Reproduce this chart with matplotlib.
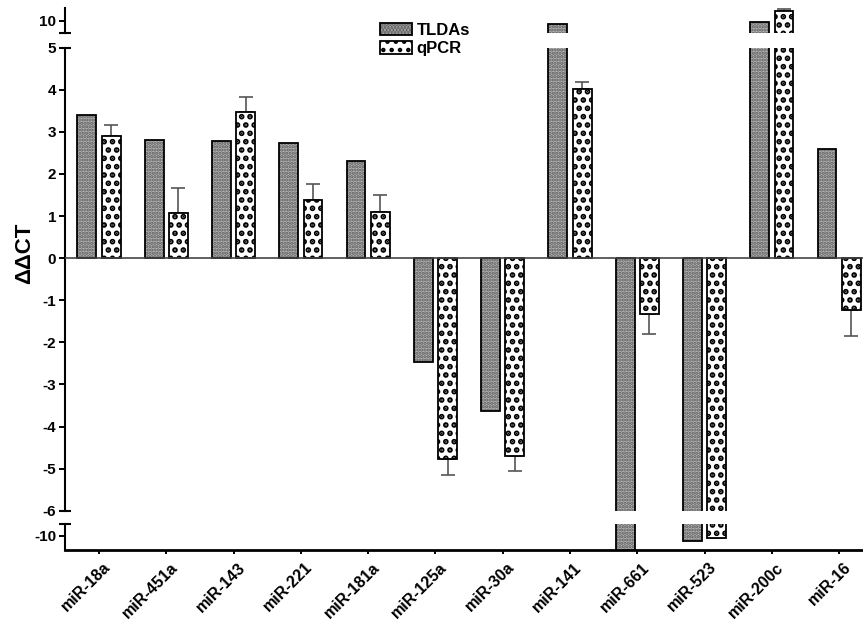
import numpy as np
import matplotlib.pyplot as plt
from matplotlib.patches import Patch
from matplotlib.transforms import ScaledTranslation

plt.rcParams['font.family'] = ['Liberation Sans', 'DejaVu Sans']
plt.rcParams['font.weight'] = 'bold'
plt.rcParams['axes.unicode_minus'] = False
plt.rcParams['hatch.linewidth'] = 2.0

# ΔΔCT par miARN : TLDAs vs qPCR (erreur sur qPCR seulement)
mirnas = ["miR-18a", "miR-451a", "miR-143", "miR-221", "miR-181a", "miR-125a",
          "miR-30a", "miR-141", "miR-661", "miR-523", "miR-200c", "miR-16"]
tldas = [3.40, 2.81, 2.78, 2.73, 2.32, -2.46, -3.63, 9.44, -12.8, -10.93, 9.86, 2.60]
qpcr = [2.91, 1.07, 3.47, 1.37, 1.09, -4.77, -4.69, 4.02, -1.32, -10.35, 11.6, -1.22]
qpcr_err = [0.26, 0.60, 0.37, 0.39, 0.40, 0.38, 0.37, 0.16, 0.49, 0.0, 0.30, 0.62]

x = np.arange(len(mirnas))
largeur = 0.28
decal = 0.18

# erreur dessinée seulement du côté de la barre
qpcr_a = np.array(qpcr)
err_a = np.array(qpcr_err)
yerr = np.vstack([np.where(qpcr_a < 0, err_a, 0), np.where(qpcr_a >= 0, err_a, 0)])

fig = plt.figure(figsize=(8.63, 6.2), dpi=100)
x0 = 64.5 / 863
w = 1 - x0
ax_haut = fig.add_axes([x0, 1 - 33.3 / 620, w, 25 / 620])
ax_mil = fig.add_axes([x0, 1 - 510.7 / 620, w, 463 / 620])
ax_bas = fig.add_axes([x0, 1 - 550 / 620, w, 25.7 / 620])

gris_tlda = '#b4b4b4'
motif_tlda = '#5a5a5a'
lw_tlda = 1.6
motif_qpcr = '..'
lw_qpcr = 2.8


def epaisseur_motif(patches, lw):
    for p in patches:
        if hasattr(p, 'set_hatch_linewidth'):
            p.set_hatch_linewidth(lw)


for ax in (ax_haut, ax_mil, ax_bas):
    b1 = ax.bar(x - decal, tldas, largeur, color=gris_tlda, edgecolor=motif_tlda,
                hatch='.....', linewidth=0, zorder=2)
    epaisseur_motif(b1, lw_tlda)
    ax.bar(x - decal, tldas, largeur, fill=False, edgecolor='black',
           linewidth=1.3, zorder=3)
    b2 = ax.bar(x + decal, qpcr, largeur, color='white', edgecolor='black',
                hatch=motif_qpcr, linewidth=1.3, zorder=2)
    epaisseur_motif(b2, lw_qpcr)
    ax.errorbar(x + decal, qpcr, yerr=yerr, fmt='none', ecolor='#555555',
                elinewidth=1.2, capsize=5, capthick=1.2, zorder=1)
    ax.set_xlim(-0.513, 11.355)
    for s in ('top', 'right', 'bottom'):
        ax.spines[s].set_visible(False)
    ax.spines['left'].set_linewidth(1.5)
    ax.tick_params(axis='y', direction='out', length=4, width=1.4,
                   labelsize=11, pad=2)
    ax.set_xticks([])

ax_haut.set_ylim(8, 12)
ax_haut.set_yticks([10])
ax_mil.set_ylim(-6, 5)
ax_mil.set_yticks(range(-6, 6))
ax_mil.axhline(0, color='#444444', linewidth=1.2, zorder=4)
ax_bas.set_ylim(-12.5, -8)
ax_bas.set_yticks([-10])

# axe des x sur le segment du bas
ax_bas.spines['bottom'].set_visible(True)
ax_bas.spines['bottom'].set_linewidth(2)
ax_bas.set_xticks(x)
ax_bas.set_xticklabels(mirnas, rotation=45, ha='right', va='top',
                       rotation_mode='anchor', fontsize=11.5)
ax_bas.tick_params(axis='x', direction='out', length=3, width=1.4, pad=4)
for lab in ax_bas.get_xticklabels():
    lab.set_transform(lab.get_transform() + ScaledTranslation(0.04, 0, fig.dpi_scale_trans))

# petits traits aux coupures de l'axe
for ax, pos in ((ax_haut, 0), (ax_mil, 0), (ax_mil, 1), (ax_bas, 1)):
    ax.plot([0], [pos], marker='_', markersize=8, mew=1.5, color='black',
            transform=ax.transAxes, clip_on=False)

fig.text(25 / 863, 1 - 253 / 620, 'ΔΔCT', rotation=90, ha='center', va='center',
         fontsize=16, fontweight='bold')

h_tlda = (Patch(facecolor=gris_tlda, edgecolor=motif_tlda, hatch='.....', linewidth=0),
          Patch(fill=False, edgecolor='black', linewidth=1.3))
h_qpcr = Patch(facecolor='white', edgecolor='black', hatch=motif_qpcr, linewidth=1.3)
epaisseur_motif([h_tlda[0]], lw_tlda)
epaisseur_motif([h_qpcr], lw_qpcr)
fig.legend([h_tlda, h_qpcr], ['TLDAs', 'qPCR'], loc='upper left',
           bbox_to_anchor=(380 / 863, 1 - 23 / 620), frameon=False,
           fontsize=12, handlelength=1.9, handleheight=0.75, handletextpad=0.3,
           labelspacing=0.2, borderpad=0, borderaxespad=0)

fig.savefig('out.png', dpi=100)
